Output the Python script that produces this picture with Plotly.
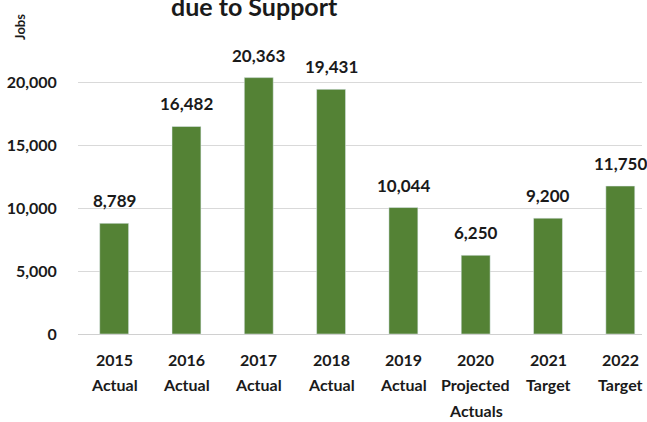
import plotly.graph_objects as go

years = ["2015", "2016", "2017", "2018", "2019", "2020", "2021", "2022"]
kinds = [["Actual"], ["Actual"], ["Actual"], ["Actual"], ["Actual"],
         ["Projected", "Actuals"], ["Target"], ["Target"]]
jobs = [8789, 16482, 20363, 19431, 10044, 6250, 9200, 11750]
y_ticks = [0, 5000, 10000, 15000, 20000]

FONT = "Lato"
TXT = "#1a1a1a"
GREEN = "#548235"

fig = go.Figure()
fig.add_trace(go.Bar(x=years, y=jobs, marker_color=GREEN, width=0.4,
                     hoverinfo="skip", showlegend=False))

annotations = []
# on a category axis, annotation x is the category's serial index
for i, v in enumerate(jobs):
    annotations.append(dict(x=i, y=v, xref="x", yref="y", text=f"<b>{v:,}</b>",
                            showarrow=False, yanchor="bottom", yshift=10,
                            font=dict(family=FONT, size=17, color=TXT)))
# category labels (multi-line, custom spacing)
line_y = [-0.092, -0.183, -0.276]
for i, (yr, ks) in enumerate(zip(years, kinds)):
    lines = [yr] + ks
    for j, t in enumerate(lines):
        annotations.append(dict(x=i, y=line_y[j], xref="x", yref="paper",
                                text=f"<b>{t}</b>", showarrow=False, yanchor="middle",
                                font=dict(family=FONT, size=16, color=TXT)))
# title (cropped at top)
annotations.append(dict(x=0.313, y=1.122, xref="paper", yref="paper",
                        text="<b>due to Support</b>", showarrow=False,
                        xanchor="center", yanchor="bottom",
                        font=dict(family=FONT, size=25, color=TXT)))
# y axis title
annotations.append(dict(x=-0.103, y=1.108, xref="paper", yref="paper",
                        text="<b>Jobs</b>", showarrow=False, textangle=-90,
                        xanchor="center", yanchor="middle",
                        font=dict(family=FONT, size=13, color=TXT)))

fig.update_layout(
    width=647, height=422,
    margin=dict(l=78, r=5, t=57, b=88),
    plot_bgcolor="white", paper_bgcolor="white",
    annotations=annotations,
    bargap=0.6,
    xaxis=dict(type="category", range=[-0.5, 7.3], showticklabels=False,
               showgrid=False, showline=False, zeroline=False, fixedrange=True),
    yaxis=dict(range=[0, 22000], tickvals=y_ticks,
               ticktext=[f"<b>{t:,}</b>" for t in y_ticks],
               tickfont=dict(family=FONT, size=16, color=TXT),
               ticks="outside", ticklen=17, tickcolor="rgba(0,0,0,0)",
               showgrid=True, gridcolor="#d9d9d9", gridwidth=1,
               zeroline=True, zerolinecolor="#d0d0d0", zerolinewidth=1,
               showline=False, fixedrange=True),
)

fig.write_html("out.html")
